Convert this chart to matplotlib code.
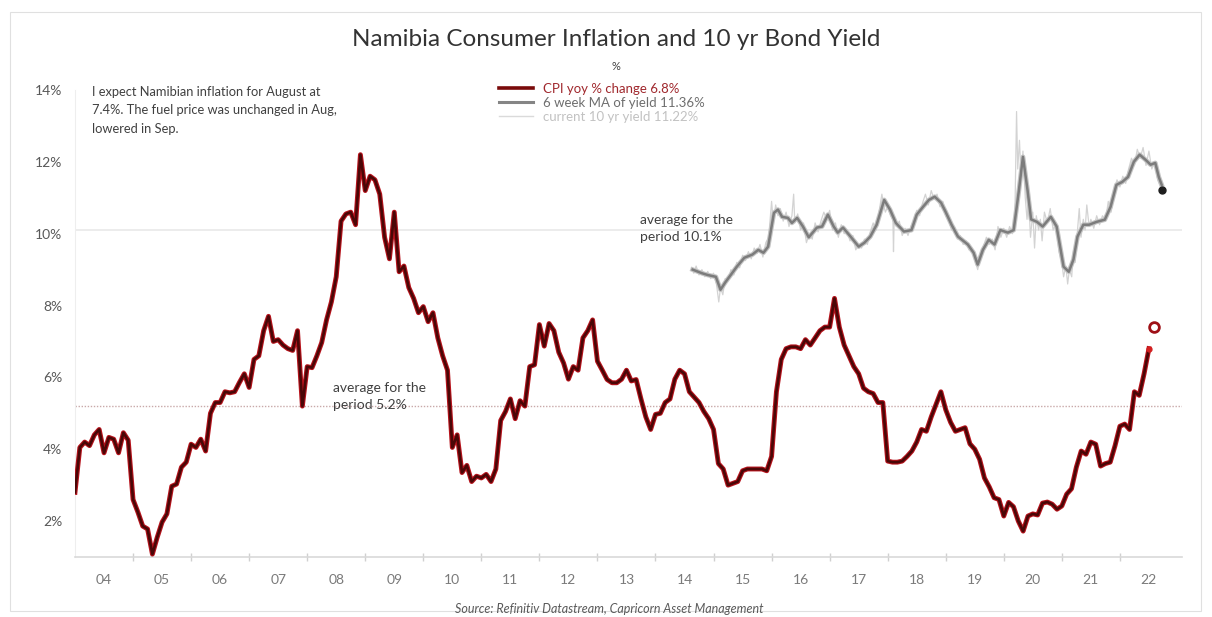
import numpy as np
import matplotlib
matplotlib.use("Agg")
import matplotlib.pyplot as plt
from matplotlib.lines import Line2D
from matplotlib.patches import Rectangle
from matplotlib.ticker import FixedLocator

plt.rcParams['font.family'] = ['Lato', 'DejaVu Sans']

# ---------------- data ----------------
cpi_start_year = 2004  # monthly series starting Jan 2004
cpi_2004 = [2.8, 4.05, 4.2, 4.1, 4.4, 4.55, 3.9, 4.33, 4.28, 3.9, 4.46, 4.25]
cpi_2005 = [2.6, 2.25, 1.86, 1.78, 1.08, 1.55, 1.97, 2.2, 2.97, 3.03, 3.5, 3.64]
cpi_2006 = [4.14, 4.05, 4.28, 3.95, 5.0, 5.3, 5.3, 5.6, 5.57, 5.6, 5.86, 6.1]
cpi_2007 = [5.72, 6.5, 6.6, 7.3, 7.7, 7.0, 7.05, 6.9, 6.8, 6.75, 7.3, 5.2]
cpi_2008 = [6.3, 6.27, 6.6, 6.97, 7.6, 8.1, 8.8, 10.35, 10.55, 10.6, 10.25, 12.2]
cpi_2009 = [11.2, 11.6, 11.5, 11.1, 9.9, 9.3, 10.6, 8.94, 9.1, 8.5, 8.2, 7.8]
cpi_2010 = [7.97, 7.55, 7.8, 7.1, 6.6, 6.2, 4.05, 4.4, 3.35, 3.55, 3.1, 3.25]
cpi_2011 = [3.2, 3.3, 3.1, 3.45, 4.8, 5.05, 5.4, 4.85, 5.35, 5.2, 6.3, 6.35]
cpi_2012 = [7.47, 6.87, 7.5, 7.3, 6.7, 6.4, 5.95, 6.3, 6.2, 7.1, 7.3, 7.6]
cpi_2013 = [6.45, 6.2, 5.94, 5.85, 5.85, 5.95, 6.2, 5.9, 5.94, 5.4, 4.9, 4.55]
cpi_2014 = [4.97, 5.0, 5.3, 5.4, 5.95, 6.2, 6.1, 5.6, 5.45, 5.3, 5.05, 4.85]
cpi_2015 = [4.55, 3.6, 3.45, 3.0, 3.05, 3.1, 3.4, 3.45, 3.45, 3.45, 3.45, 3.4]
cpi_2016 = [3.8, 5.6, 6.5, 6.8, 6.85, 6.85, 6.8, 7.05, 6.9, 7.1, 7.3, 7.4]
cpi_2017 = [7.4, 8.2, 7.4, 6.9, 6.6, 6.3, 6.1, 5.7, 5.6, 5.55, 5.3, 5.3]
cpi_2018 = [3.67, 3.64, 3.64, 3.67, 3.8, 3.95, 4.2, 4.55, 4.5, 4.9, 5.25, 5.6]
cpi_2019 = [5.1, 4.75, 4.5, 4.55, 4.6, 4.15, 4.0, 3.72, 3.2, 2.95, 2.65, 2.6]
cpi_2020 = [2.14, 2.52, 2.4, 2.0, 1.72, 2.14, 2.2, 2.17, 2.5, 2.53, 2.47, 2.33]
cpi_2021 = [2.42, 2.75, 2.9, 3.5, 3.95, 3.86, 4.2, 4.14, 3.53, 3.6, 3.64, 4.1]
cpi_2022 = [4.64, 4.7, 4.55, 5.6, 5.5, 6.1, 6.8]

cpi_forecast_month = 8     # August 2022
cpi_forecast_year = 2022
cpi_forecast_value = 7.4

cpi_average = 5.2
yield_average = 10.1

# 6 week moving average of 10 yr yield (decimal year, %)
yield_ma_t = [2014.64, 2014.72, 2014.80, 2014.90, 2015.04, 2015.12, 2015.20, 2015.30, 2015.40,
              2015.53, 2015.67, 2015.77, 2015.86, 2015.94, 2016.04, 2016.11, 2016.18, 2016.28,
              2016.35, 2016.44, 2016.54, 2016.64, 2016.78, 2016.87, 2016.97, 2017.07, 2017.14,
              2017.23, 2017.37, 2017.50, 2017.60, 2017.70, 2017.81, 2017.94, 2018.04, 2018.14,
              2018.28, 2018.41, 2018.50, 2018.61, 2018.71, 2018.81, 2018.92, 2019.00, 2019.10,
              2019.21, 2019.38, 2019.48, 2019.55, 2019.64, 2019.74, 2019.84, 2019.94, 2020.07,
              2020.17, 2020.26, 2020.33, 2020.41, 2020.47, 2020.57, 2020.67, 2020.81, 2020.91,
              2020.97, 2021.03, 2021.12, 2021.20, 2021.27, 2021.37, 2021.47, 2021.60, 2021.74,
              2021.84, 2021.94, 2022.04, 2022.14, 2022.24, 2022.34, 2022.44, 2022.53, 2022.61,
              2022.67, 2022.72]
yield_ma_v = [9.0, 8.95, 8.9, 8.85, 8.8, 8.44, 8.64, 8.86, 9.08,
              9.33, 9.42, 9.55, 9.47, 9.64, 10.58, 10.67, 10.47, 10.44,
              10.3, 10.44, 10.2, 9.9, 10.17, 10.2, 10.53, 10.2, 10.03,
              10.17, 9.9, 9.64, 9.75, 9.92, 10.25, 10.94, 10.67, 10.3,
              10.06, 10.1, 10.53, 10.75, 10.94, 11.03, 10.86, 10.6, 10.25,
              9.92, 9.7, 9.47, 9.14, 9.55, 9.83, 9.7, 10.1, 10.03,
              10.1, 11.2, 12.14, 11.2, 10.4, 10.33, 10.2, 10.47, 10.2,
              9.64, 9.08, 8.94, 9.28, 9.92, 10.25, 10.25, 10.33, 10.39,
              10.75, 11.36, 11.44, 11.58, 12.0, 12.2, 12.06, 11.92, 11.97,
              11.58, 11.36]

# current 10 yr yield (decimal year, %)
yield_cur_t = [2014.62, 2014.66, 2014.70, 2014.75, 2014.80, 2014.85, 2014.90, 2014.95, 2015.00,
               2015.05, 2015.09, 2015.12, 2015.16, 2015.20, 2015.25, 2015.30, 2015.35, 2015.40,
               2015.45, 2015.50, 2015.55, 2015.60, 2015.65, 2015.70, 2015.75, 2015.80, 2015.85,
               2015.90, 2015.95, 2016.00, 2016.03, 2016.07, 2016.11, 2016.15, 2016.20, 2016.25,
               2016.30, 2016.35, 2016.38, 2016.40, 2016.45, 2016.50, 2016.55, 2016.60, 2016.65,
               2016.70, 2016.75, 2016.80, 2016.85, 2016.90, 2016.95, 2017.00, 2017.05, 2017.10,
               2017.15, 2017.20, 2017.25, 2017.30, 2017.35, 2017.40, 2017.45, 2017.50, 2017.55,
               2017.60, 2017.65, 2017.70, 2017.75, 2017.80, 2017.85, 2017.90, 2017.93, 2017.96,
               2018.00, 2018.05, 2018.09, 2018.10, 2018.11, 2018.15, 2018.20, 2018.25, 2018.30,
               2018.35, 2018.40, 2018.45, 2018.50, 2018.55, 2018.60, 2018.65, 2018.70, 2018.75,
               2018.80, 2018.85, 2018.90, 2018.95, 2019.00, 2019.05, 2019.10, 2019.15, 2019.20,
               2019.25, 2019.30, 2019.35, 2019.40, 2019.45, 2019.50, 2019.55, 2019.60, 2019.65,
               2019.70, 2019.75, 2019.80, 2019.85, 2019.90, 2019.95, 2020.00, 2020.05, 2020.10,
               2020.15, 2020.19, 2020.22, 2020.24, 2020.27, 2020.30, 2020.33, 2020.37, 2020.40,
               2020.43, 2020.46, 2020.50, 2020.53, 2020.56, 2020.60, 2020.63, 2020.66, 2020.70,
               2020.75, 2020.80, 2020.85, 2020.90, 2020.95, 2021.00, 2021.03, 2021.07, 2021.10,
               2021.13, 2021.17, 2021.20, 2021.23, 2021.27, 2021.30, 2021.33, 2021.37, 2021.40,
               2021.43, 2021.47, 2021.50, 2021.55, 2021.60, 2021.65, 2021.70, 2021.75, 2021.80,
               2021.85, 2021.90, 2021.95, 2022.00, 2022.05, 2022.10, 2022.15, 2022.20, 2022.25,
               2022.30, 2022.35, 2022.40, 2022.45, 2022.50, 2022.55, 2022.60, 2022.65, 2022.70,
               2022.72]
yield_cur_v = [9.05, 8.9, 9.1, 8.85, 9.0, 8.8, 8.95, 8.75, 8.9,
               8.6, 8.1, 8.5, 8.3, 8.75, 8.7, 9.0, 8.85, 9.2,
               9.05, 9.4, 9.25, 9.5, 9.3, 9.6, 9.45, 9.7, 9.35,
               9.75, 9.9, 10.9, 10.3, 10.8, 10.5, 10.7, 10.35, 10.6,
               10.2, 10.5, 11.1, 10.3, 10.55, 10.1, 10.3, 9.75, 10.0,
               9.85, 10.3, 10.05, 10.35, 10.6, 10.4, 10.65, 10.1, 10.3,
               9.9, 10.25, 10.0, 10.1, 9.8, 9.95, 9.55, 9.7, 9.6,
               9.85, 9.7, 10.05, 10.3, 10.1, 10.6, 11.1, 10.8, 10.6,
               10.75, 10.5, 10.4, 9.5, 10.3, 10.2, 10.35, 9.95, 10.15,
               9.95, 10.2, 10.35, 10.65, 10.5, 10.85, 11.1, 10.8, 11.2,
               10.95, 11.1, 10.75, 10.9, 10.5, 10.4, 10.1, 10.2, 9.85,
               9.95, 9.7, 9.8, 9.55, 9.6, 9.3, 9.0, 9.35, 9.65,
               9.9, 9.7, 9.85, 9.55, 10.2, 9.9, 10.15, 9.9, 10.2,
               10.0, 10.4, 13.4, 11.8, 12.6, 11.5, 12.3, 11.0, 10.4,
               10.9, 9.9, 10.6, 9.6, 10.5, 10.1, 10.4, 9.8, 10.6,
               10.3, 10.7, 10.1, 10.3, 9.5, 9.2, 8.8, 9.1, 8.6,
               9.0, 8.8, 9.5, 9.2, 10.1, 10.7, 9.9, 10.4, 10.1,
               10.8, 10.2, 10.4, 10.15, 10.5, 10.25, 10.5, 10.35, 10.9,
               10.6, 11.2, 11.5, 11.3, 11.6, 11.4, 11.8, 12.1, 11.9,
               12.35, 12.1, 12.4, 11.9, 12.3, 11.8, 12.0, 11.5, 11.3,
               11.22]

year_labels = ['04', '05', '06', '07', '08', '09', '10', '11', '12', '13',
               '14', '15', '16', '17', '18', '19', '20', '21', '22']
y_ticks = [2, 4, 6, 8, 10, 12, 14]

title = "Namibia Consumer Inflation and 10 yr Bond Yield"
subtitle = "%"
note = ("I expect Namibian inflation for August at\n"
        "7.4%. The fuel price was unchanged in Aug,\n"
        "lowered in Sep.")
legend_labels = ["CPI yoy % change 6.8%", "6 week MA of yield 11.36%",
                 "current 10 yr yield 11.22%"]
avg_cpi_label = "average for the\nperiod 5.2%"
avg_yield_label = "average for the\nperiod 10.1%"
source = "Source: Refinitiv Datastream, Capricorn Asset Management"

# ---------------- figure ----------------
W, H = 1212, 617
fig = plt.figure(figsize=(W / 100, H / 100), dpi=100)
fig.patch.set_facecolor('white')
ax = fig.add_axes([75 / W, 1 - 557 / H, (1182 - 75) / W, (557 - 90) / H])
ax.set_xlim(2004.0, 2023.07)
ax.set_ylim(1, 14)

cpi = (cpi_2004 + cpi_2005 + cpi_2006 + cpi_2007 + cpi_2008 + cpi_2009 + cpi_2010 +
       cpi_2011 + cpi_2012 + cpi_2013 + cpi_2014 + cpi_2015 + cpi_2016 + cpi_2017 +
       cpi_2018 + cpi_2019 + cpi_2020 + cpi_2021 + cpi_2022)
cpi_t = cpi_start_year + np.arange(len(cpi)) / 12.0

# average lines
ax.axhline(yield_average, color='#ebebeb', lw=1.3, zorder=1)
ax.axhline(cpi_average, color='#c9a9a9', lw=1.0, ls=(0, (1, 1.2)), zorder=1)

# yields
ax.plot(yield_cur_t, yield_cur_v, color='#d3d3d3', lw=0.9, zorder=2)
ax.plot(yield_ma_t, yield_ma_v, color='#c4c4c4', lw=3.4, zorder=3, solid_joinstyle='round')
ax.plot(yield_ma_t, yield_ma_v, color='#7c7c7c', lw=1.8, zorder=3.5, solid_joinstyle='round')
ax.plot(yield_cur_t[-1], yield_cur_v[-1], 'o', color='#1e1e1e', ms=5, zorder=6)

# CPI
ax.plot(cpi_t, cpi, color='#b5121b', lw=3.5, zorder=4, solid_joinstyle='round')
ax.plot(cpi_t, cpi, color='#4a0707', lw=1.9, zorder=5, solid_joinstyle='round')
ax.plot(cpi_t[-1], cpi[-1], 'o', color='#d42020', ms=3.5, zorder=6)
fc_t = cpi_forecast_year + (cpi_forecast_month - 1) / 12.0
ax.plot([fc_t], [cpi_forecast_value], 'o', mfc='white', mec='#9e1016', ms=7, mew=2, zorder=6)

# axes styling
for s in ['top', 'right']:
    ax.spines[s].set_visible(False)
ax.spines['left'].set_color('#eeeeee')
ax.spines['bottom'].set_color('#d9d9d9')
ax.spines['bottom'].set_linewidth(1.2)

ax.yaxis.set_major_locator(FixedLocator(y_ticks))
ax.set_yticklabels([f"{v}%" for v in y_ticks])
ax.tick_params(axis='y', length=0, pad=9, labelsize=10, labelcolor='#595959')

major_x = [2004.5 + i for i in range(len(year_labels))]
minor_x = [2005 + i for i in range(len(year_labels) - 1)]
ax.xaxis.set_major_locator(FixedLocator(major_x))
ax.xaxis.set_minor_locator(FixedLocator(minor_x))
ax.set_xticklabels(year_labels)
ax.tick_params(axis='x', which='major', length=0, pad=12, labelsize=10, labelcolor='#7a7a7a')
ax.tick_params(axis='x', which='minor', length=6, direction='inout', color='#d0d0d0', width=1)

# legend
handles = [Line2D([], [], color='#7a0a0a', lw=2.6),
           Line2D([], [], color='#858585', lw=2.2),
           Line2D([], [], color='#dadada', lw=1.0)]
leg = ax.legend(handles, legend_labels, loc='upper left',
                bbox_to_anchor=(499 / W, 1 - 83 / H), bbox_transform=fig.transFigure,
                frameon=False, fontsize=9.5, handlelength=2.6, handletextpad=0.75,
                labelspacing=0.15, borderaxespad=0, borderpad=0)
for txt, c in zip(leg.get_texts(), ['#a0282d', '#6e6e6e', '#c2c2c2']):
    txt.set_color(c)

# texts
fig.text(616 / W, 1 - 40 / H, title, ha='center', va='center', fontsize=17.5, color='#333333')
fig.text(616 / W, 1 - 66 / H, subtitle, ha='center', va='center', fontsize=8, color='#404040')
fig.text(92 / W, 1 - 86 / H, note, ha='left', va='top', fontsize=9.3, color='#404040',
         linespacing=1.65)
ax.text(2008.44, cpi_average + 0.27, avg_cpi_label, ha='left', va='center', fontsize=10,
        color='#404040', linespacing=1.55)
ax.text(2013.73, yield_average + 0.04, avg_yield_label, ha='left', va='center', fontsize=10,
        color='#404040', linespacing=1.45)
fig.text(609 / W, 1 - 609 / H, source, ha='center', va='center', fontsize=9,
         style='italic', color='#595959')

fig.add_artist(Rectangle((10 / W, 1 - 611 / H), (1201 - 10) / W, (611 - 12) / H,
                         transform=fig.transFigure, fill=False, ec='#e0e0e0', lw=0.8))

fig.savefig('out.png', dpi=100)
